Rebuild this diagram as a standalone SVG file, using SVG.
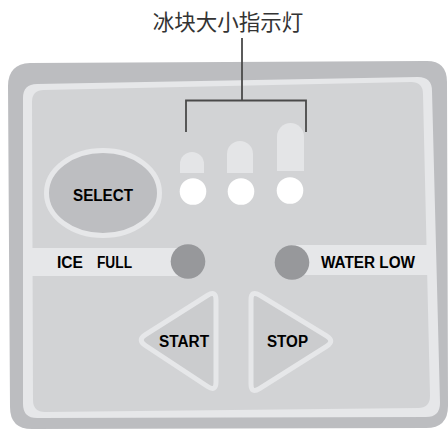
<svg xmlns="http://www.w3.org/2000/svg" width="448" height="430" viewBox="0 0 448 430">
<style>
.lbl{font-family:"Liberation Sans",Arial,sans-serif;font-weight:bold;fill:#000;}
.light{fill:#E6E7E9;}
.led{fill:#FFFFFF;}
.bar{fill:#E4E5E7;}
.gray{fill:#97989B;}
.tri{fill:#CBCCCE;stroke:#E6E7E9;stroke-width:5;stroke-linejoin:round;}
.conn{fill:none;stroke:#4A4A4A;stroke-width:1.8;}
</style>
<rect width="448" height="430" fill="#FFFFFF"/>
<g id="panel">
<path d="M8,86 Q8,64 30,63 L425,61 Q447,60 447,82 L448,406 Q448,428 426,428 L32,429 Q10,429 10,407 Z" fill="#BCBDC0"/>
<path d="M23,98 Q23,84 37,84 L418,77 Q432,77 432,91 L440,403 Q440,417 426,417 L37,418 Q23,418 23,404 Z" class="light"/>
<path d="M32,102 Q32,90 44,90 L411,82 Q423,82 423,94 L430,396 Q430,408 418,408 L45,412 Q33,412 33,400 Z" fill="#D2D3D5"/>
<polygon points="25,248 188,248 188,276 25,276" class="light"/>
<polygon points="292,245 434,245 434,275 292,275" class="light"/>
</g>
<g id="title">
<text x="228" y="30" text-anchor="middle" font-family="'Noto Sans CJK SC','Noto Sans',sans-serif" font-size="21.5" fill="#333333">冰块大小指示灯</text>
</g>
<g id="connectors">
<path class="conn" d="M242,38 L242,100.5 M186,132 L186,100.5 L306,100.5 L306,132"/>
</g>
<g id="select">
<ellipse cx="103" cy="193" rx="56.5" ry="42.5" fill="#BDBEC1" stroke="#E6E7E9" stroke-width="5"/>
<text class="lbl" x="103" y="201" text-anchor="middle" font-size="17" textLength="60" lengthAdjust="spacingAndGlyphs">SELECT</text>
</g>
<g id="size1">
<path class="bar" d="M180,173 L180,164 A12,12 0 0 1 204,164 L204,173 Z"/>
<circle class="led" cx="193" cy="191.5" r="13.3"/>
</g>
<g id="size2">
<path class="bar" d="M227,173 L227,154 A13,13 0 0 1 253,154 L253,173 Z"/>
<circle class="led" cx="241" cy="191.5" r="13.3"/>
</g>
<g id="size3">
<path class="bar" d="M277,171 L277,136.5 A13.5,13.5 0 0 1 304,136.5 L304,171 Z"/>
<circle class="led" cx="290" cy="190.5" r="13.3"/>
</g>
<g id="ice-full">
<circle class="gray" cx="188" cy="261.5" r="17.3"/>
<text class="lbl" x="57" y="268" font-size="16" textLength="26" lengthAdjust="spacingAndGlyphs">ICE</text>
<text class="lbl" x="97" y="268" font-size="16" textLength="35" lengthAdjust="spacingAndGlyphs">FULL</text>
</g>
<g id="water-low">
<circle class="gray" cx="292" cy="262.5" r="17.3"/>
<text class="lbl" x="321" y="267.5" font-size="16" textLength="94" lengthAdjust="spacingAndGlyphs">WATER LOW</text>
</g>
<g id="start">
<path class="tri" d="M145.5,334.7 L207.5,295.3 Q216,290 216,300 L216,382 Q216,392 207.6,386.5 L145.4,345.5 Q137,340 145.5,334.7 Z"/>
<text class="lbl" x="184" y="347" text-anchor="middle" font-size="16" textLength="50" lengthAdjust="spacingAndGlyphs">START</text>
</g>
<g id="stop">
<path class="tri" d="M251,300 Q251,290 259.6,295.2 L326.5,335.8 Q335,341 326.5,346.3 L259.5,388.7 Q251,394 251,384 Z"/>
<text class="lbl" x="287.5" y="347" text-anchor="middle" font-size="16" textLength="41" lengthAdjust="spacingAndGlyphs">STOP</text>
</g>
</svg>
